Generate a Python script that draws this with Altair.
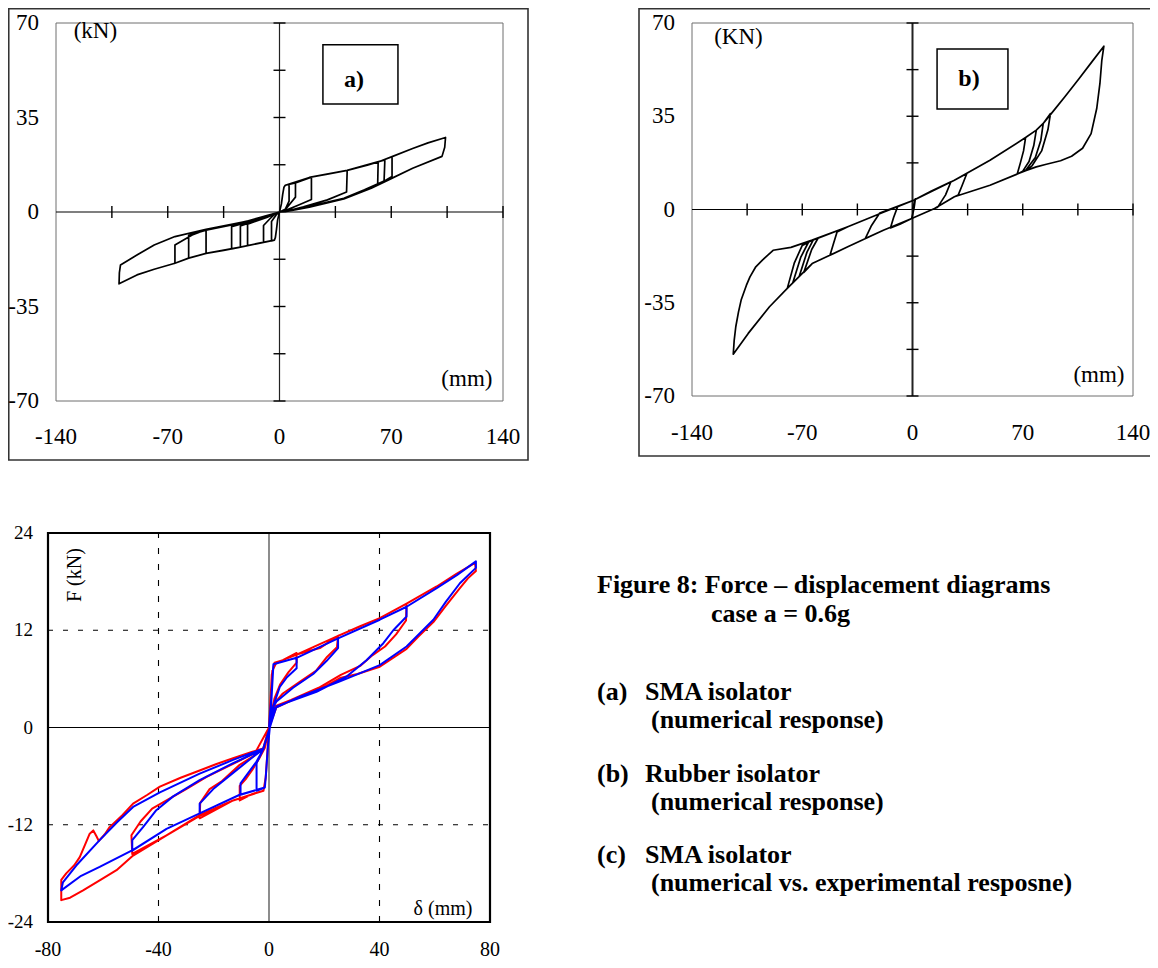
import altair as alt
import pandas as pd

FONT = "Liberation Serif"

# ---------------- data ----------------
# (a) SMA isolator, numerical response: displacement (mm), force (kN)
a_points = [
    (0, 0), (1.2, 3), (2.0, 6.5), (2.8, 9.2), (3.6, 9.9), (10, 10.8),
    (10, 5.5), (6, 2.6), (3.6, 0.8), (0, 0),
    (-1.2, -3), (-1.9, -6.5), (-2.6, -9.5), (-3.2, -10.4), (-10, -11.3),
    (-10, -5), (-6, -2.5), (-3, -0.8), (0, 0),
    (1.2, 3), (2.0, 6.5), (2.8, 9.2), (3.6, 9.9), (10, 10.8), (20, 12.9),
    (20, 4.6), (12, 2.6), (3.6, 0.5), (0, 0),
    (-1.2, -3), (-1.9, -6.5), (-2.6, -9.5), (-3.2, -10.4), (-10, -11.3), (-24.5, -13.0),
    (-24.5, -5.2), (-14, -3.0), (-5, -1.2), (0, 0),
    (1.2, 3), (2.0, 6.5), (2.8, 9.2), (3.6, 9.9), (18.7, 12.8), (30, 14.0), (42.4, 15.4),
    (42, 7.4), (30, 4.5), (15, 1.9), (3.6, 0.2), (0, 0),
    (-1.2, -3), (-1.9, -6.5), (-2.6, -9.5), (-3.2, -10.4), (-24.5, -13.0), (-35, -14.2), (-46, -15.3),
    (-46, -6.6), (-30, -4.6), (-10, -2.2), (0, 0),
    (1.2, 3), (2.0, 6.5), (2.8, 9.2), (3.6, 9.9), (18.7, 12.8), (42.4, 15.4), (55, 17.3), (61.8, 18.5),
    (70.5, 20.5), (83.4, 23.5), (93, 25.6), (104, 27.6),
    (103.5, 24), (101.8, 20.6), (83.4, 16.2), (68.3, 11.9), (57.5, 8.8), (40.3, 4.8), (18.7, 1.8), (3.6, 0.1), (0, 0),
    (-1.2, -3), (-1.9, -6.5), (-2.6, -9.5), (-3.2, -10.4), (-24.5, -13.0), (-46, -15.3), (-56.9, -17.1),
    (-65.5, -19.0), (-78.5, -21.2), (-89.3, -23.3), (-100.5, -26.6),
    (-100.3, -22.5), (-99.6, -19.6), (-89.3, -15.9), (-78.5, -12.2), (-65.5, -9.1), (-46, -6.4), (-24.5, -3.9), (-7.2, -1.7), (0, 0),
    (1.2, 3), (2.0, 6.5), (2.8, 9.2), (3.6, 9.9), (18.7, 12.8), (42.4, 15.4), (61.8, 18.5), (70.5, 20.5),
    (70.5, 13.2), (61.8, 10.1), (53.2, 8.0), (40.3, 4.9), (18.7, 1.9), (3.6, 0.1), (0, 0),
    (-1.2, -3), (-1.9, -6.5), (-2.6, -9.5), (-3.2, -10.4), (-24.5, -13.0), (-46, -15.3), (-56.9, -17.1), (-65.5, -19.0),
    (-65.5, -12.2), (-54.7, -8.5), (-46, -6.6), (-24.5, -4.0), (-7.2, -1.7), (0, 0),
    (1.2, 3), (2.0, 6.5), (2.8, 9.2), (3.6, 9.9), (18.7, 12.8), (42.4, 15.4), (61.8, 18.5),
    (61.5, 10.4), (53.2, 8.1), (40.3, 5.0), (18.7, 2.0), (3.6, 0.1), (0, 0),
    (-1.2, -3), (-1.9, -6.5), (-2.6, -9.5), (-3.2, -10.4), (-24.5, -13.0), (-46, -15.3), (-56.9, -17.1),
    (-56.9, -8.6), (-46, -6.7), (-24.5, -4.1), (0, 0),
    (1.2, 3), (2.0, 6.5), (2.8, 9.2), (3.6, 9.9), (18.7, 12.8), (42.4, 15.4), (66, 19.3),
    (65.5, 11.5), (53.2, 8.2), (40.3, 5.1), (18.7, 2.1), (0, 0),
    (-1.2, -3), (-1.9, -6.5), (-2.6, -9.5), (-3.2, -10.4), (-24.5, -13.0), (-30, -13.7),
    (-30, -5.4), (-20, -3.8), (0, 0),
    (1.2, 3), (2.0, 6.5), (2.8, 9.2), (3.6, 9.9), (6, 10.2),
    (6, 4), (3.6, 1), (0, 0),
    (-1.2, -3), (-1.9, -6.5), (-2.6, -9.5), (-3.2, -10.4), (-20, -12.4),
    (-20, -4.5), (-8, -2), (0, 0),
    (-1.2, -3), (-1.9, -6.5), (-2.6, -9.5), (-3.2, -10.4), (-5, -10.7),
    (-5, -3.5), (-2, -1), (0, 0),
]

# (b) Rubber isolator, numerical response
b_points = [
    (0, 0), (1.8, 4.0),
    (1.0, 0.5), (-0.5, -3.4), (-8, -5.5), (-14, -6.9),
    (-12, -3), (-9.5, 1.0), (0.7, 3.5), (12, 6.9), (24.4, 10.4),
    (21, 5.5), (16, 0.9), (14, 0.4), (-0.5, -3.4), (-18.5, -7.8), (-30, -10.9),
    (-26, -6), (-20.8, -1.3), (0.7, 3.5), (26.6, 11.0), (34.5, 13.5),
    (31.5, 9), (29, 5.4), (26.6, 4.8), (14, 0.4), (-0.5, -3.4), (-18.5, -7.8), (-41.1, -14.0), (-52.4, -17.2),
    (-50, -12.5), (-47.9, -8.4), (-41.1, -6.5), (-18.5, -1.0), (0.7, 3.5), (26.6, 11.0), (49.2, 18.5),
    (71.8, 27.0), (78.6, 29.8), (83.0, 32.3), (89.9, 37.3), (97, 42.5), (105.7, 49.1), (114, 55.5), (121.5, 61.3),
    (120.2, 56), (119.0, 47.3), (117.0, 38), (113.4, 28.5), (108, 23), (101, 20), (94, 18.3), (85, 17.0),
    (78.6, 16.0), (71.8, 14.6), (67.3, 13.5), (49.2, 9.1), (26.6, 4.8), (14, 0.4), (-0.5, -3.4), (-18.5, -7.8),
    (-41.1, -14.0), (-63.7, -20.3), (-79.5, -29.6), (-90.8, -36.5), (-104.3, -46.5), (-113.8, -54.3),
    (-113.2, -49), (-112.2, -44), (-110.5, -38.5), (-108.8, -34), (-105.5, -28.5), (-103.2, -25.3), (-99.5, -21.5),
    (-95.3, -19.0), (-88.5, -15.3), (-77.2, -14.2), (-63.7, -11.5), (-41.1, -6.5), (-18.5, -1.0), (0.7, 3.5),
    (26.6, 11.0), (49.2, 18.5), (71.8, 27.0), (78.6, 29.8), (83.0, 32.3), (87.6, 36.0),
    (86, 30), (82, 22), (76, 16.5), (73, 15.0), (67.3, 13.5), (49.2, 9.1), (26.6, 4.8), (14, 0.4), (-0.5, -3.4),
    (-18.5, -7.8), (-41.1, -14.0), (-63.7, -20.3), (-72, -25.2),
    (-67, -16), (-63, -11.4), (-41.1, -6.5), (-18.5, -1.0), (0.7, 3.5), (26.6, 11.0), (49.2, 18.5), (71.8, 27.0), (78.6, 29.8),
    (77, 24), (74, 18), (70, 14.4), (67.3, 13.5), (49.2, 9.1), (26.6, 4.8), (14, 0.4), (-0.5, -3.4), (-18.5, -7.8),
    (-41.1, -14.0), (-63.7, -20.3), (-76, -27.5),
    (-71, -18), (-66, -12.2), (-63.7, -11.5), (-41.1, -6.5), (-18.5, -1.0), (0.7, 3.5), (26.6, 11.0), (49.2, 18.5),
    (71.8, 27.0), (78.6, 29.8), (83.0, 32.3),
    (81.5, 26), (78, 19.5), (72, 14.8), (67.3, 13.5), (49.2, 9.1), (26.6, 4.8), (14, 0.4), (-0.5, -3.4), (-18.5, -7.8),
    (-41.1, -14.0), (-63.7, -20.3), (-79.5, -29.6),
    (-75, -20), (-70, -13.5), (-63.7, -11.5), (-41.1, -6.5), (-18.5, -1.0), (0.7, 3.5), (26.6, 11.0), (49.2, 18.5), (71.8, 27.0),
    (70.5, 22), (68.5, 17.5), (66.5, 13.3), (49.2, 9.1), (26.6, 4.8), (14, 0.4), (-0.5, -3.4), (-18.5, -7.8),
    (-41.1, -14.0), (-63.7, -20.3), (-69, -23.6),
    (-64, -15), (-60, -10.8), (-41.1, -6.5), (-18.5, -1.0), (0, 3.3),
]

# (c) SMA isolator: numerical (blue) vs experimental (red)
c_numerical = [
    (0, 0), (0.8, 3.5), (1.6, 7.8), (10, 8.6),
    (10, 7.3), (6.5, 6.2), (3.9, 5.0), (2.1, 3.2), (1.2, 2.2), (0.3, 0),
    (-0.5, -2.8), (-1.1, -5.8), (-1.5, -7.4), (-4.5, -7.8), (-4.5, -4.4), (-2.1, -2.7), (0.3, 0),
    (-0.5, -2.8), (-1.1, -5.8), (-1.5, -7.4), (-10.3, -8.3),
    (-10.3, -6.9), (-7.5, -5.6), (-4.5, -4.2), (-2.1, -2.7), (-0.8, -1.2), (0.3, 0),
    (0.9, 3.5), (1.6, 7.8), (10, 8.6), (25, 11.0),
    (25, 9.8), (20.8, 8.2), (16, 6.6), (8.7, 4.9), (2.7, 3.2), (1.5, 2.5), (0.3, 0),
    (-0.5, -2.8), (-1.1, -5.8), (-1.5, -7.4), (-10.6, -8.3), (-25.1, -10.6),
    (-25.1, -9.4), (-20.2, -7.6), (-13, -5.6), (-5.7, -3.6), (-2.1, -2.7), (0.3, 0),
    (0.9, 3.5), (1.6, 7.8), (10, 8.6), (25, 11.0), (40.1, 13.3), (49.8, 14.9),
    (49.8, 13.7), (45, 12.0), (41.4, 10.4), (35.3, 8.3), (28.1, 6.3), (17.2, 4.4), (2.7, 2.6), (0.3, 0),
    (-0.5, -2.8), (-1.1, -5.8), (-1.5, -7.4), (-10.6, -8.3), (-25.1, -10.6), (-37.1, -12.5), (-49.5, -15.2),
    (-49.5, -13.9), (-45.6, -12.3), (-40.8, -10.2), (-34.7, -8.5), (-25.1, -6.5), (-13, -4.4), (-2.1, -2.7), (0.3, 0),
    (0.9, 3.5), (1.6, 7.8), (10, 8.6), (25, 11.0), (40.1, 13.3), (49.8, 14.9), (60.7, 17.2), (68, 18.8), (74.9, 20.5),
    (74.9, 19.7), (69.1, 17.8), (64, 15.5), (59.5, 13.3), (49.8, 10.0), (40.1, 7.7), (25.7, 5.7), (11.2, 3.8), (2.1, 2.4), (0.3, 0),
    (-0.5, -2.8), (-1.1, -5.8), (-1.5, -7.4), (-10.6, -8.3), (-25.1, -10.6), (-37.1, -12.5), (-49.2, -15.1),
    (-61.3, -17.2), (-68, -18.3), (-75.2, -20.1),
    (-74.6, -19.1), (-69.7, -17.0), (-61.3, -13.9), (-55, -11.7), (-49.2, -9.8), (-39.5, -8.0), (-25.1, -5.7),
    (-13, -4.0), (-2.1, -2.6), (0.3, 0),
    (0.9, 3.5), (1.6, 7.8),
]

c_experimental = [
    (0, 0), (0.6, 3.8), (1.0, 6.5), (2.0, 8.0), (5, 8.3), (10, 9.2),
    (10, 8.0), (7, 6.8), (4, 5.3), (2.0, 3.6), (1.0, 2.0), (0, 0),
    (-0.6, -3.2), (-1.2, -6.2), (-2.0, -7.8), (-6, -8.2), (-10.6, -9.0),
    (-10.6, -7.2), (-8.5, -6.4), (-6, -5.2), (-3.5, -3.8), (-1.5, -2.5), (0, 0),
    (0.6, 3.8), (1.2, 7.0), (2.7, 8.0), (10, 9.0), (18.4, 9.8), (25, 11.3),
    (24.6, 9.9), (21, 8.7), (17, 7.0), (11, 5.6), (5, 4.2), (2, 3.0), (0, 0),
    (-0.6, -3.2), (-1.2, -6.2), (-2.0, -7.8), (-13, -9.0), (-25.1, -11.2),
    (-24.9, -9.3), (-21.5, -7.6), (-17, -6.6), (-10.6, -4.6), (-5, -3.4), (-1.5, -2.4), (0, 0),
    (0.6, 3.8), (1.2, 7.0), (2.7, 8.0), (10, 9.0), (25, 11.3), (33, 12.5), (40.1, 13.5), (49.8, 15.3),
    (49.6, 13.2), (46, 11.5), (42, 10.0), (37, 8.8), (33, 7.6), (26, 6.5), (18, 4.9), (8, 3.4), (2, 2.6), (0, 0),
    (-0.6, -3.2), (-1.2, -6.2), (-2.0, -7.8), (-13, -9.0), (-25.1, -10.9), (-37.1, -13.3), (-49.5, -15.6),
    (-49.8, -13.3), (-46.5, -11.6), (-42.3, -10.0), (-37.1, -9.0), (-30, -7.6), (-22.6, -6.1), (-13, -4.5), (-5, -3.1), (0, 0),
    (0.6, 3.8), (1.2, 7.0), (2.7, 8.0), (10, 9.0), (25, 11.3), (40.1, 13.5), (49.8, 15.3), (60.7, 17.4), (68, 19.0), (74.6, 20.3),
    (74.9, 19.3), (72, 18.4), (69.1, 17.2), (64, 15.0), (59.5, 13.0), (54, 11.2), (49.8, 9.7), (40.1, 7.5), (32, 6.6),
    (25.7, 6.1), (18, 4.6), (11.2, 3.8), (2.7, 2.5), (0, 0),
    (-0.6, -3.2), (-1.2, -6.2), (-2.0, -7.8), (-13, -9.0), (-25.1, -10.8), (-37.1, -13.3), (-49.2, -15.8),
    (-55.2, -17.6), (-61, -18.8), (-67.3, -20.1), (-72, -21.0), (-75.2, -21.3),
    (-75.2, -18.8), (-73.4, -18.0), (-70.5, -17.0), (-68.5, -16.0), (-66.5, -14.4), (-64.9, -13.1), (-63.6, -12.7),
    (-62.5, -13.4), (-61.6, -14.0), (-59.5, -13.2), (-57.7, -12.3), (-53, -10.8), (-49.2, -9.4), (-44, -8.3),
    (-39.5, -7.3), (-32, -6.2), (-25.1, -5.3), (-19, -4.5), (-13, -3.8), (-6, -3.0), (-2.1, -2.6), (0, 0),
    (0.6, 3.8), (1.2, 7.0),
]

ab_x_tick_marks = [-105, -70, -35, 35, 70, 105, 140]
ab_y_tick_marks = [-70, -52.5, -35, -17.5, 17.5, 35, 52.5, 70]
ab_x_tick_labels = [-140, -70, 0, 70, 140]
ab_y_tick_labels = [-70, -35, 0, 35, 70]
c_x_tick_labels = [-80, -40, 0, 40, 80]
c_y_tick_labels = [-24, -12, 0, 12, 24]
c_grid_x = [-40, 40]
c_grid_y = [-12, 12]

caption_title = ["Figure 8: Force \u2013 displacement diagrams", "case a = 0.6g"]
caption_tags = ["(a)", "(b)", "(c)"]
caption_names = ["SMA isolator", "Rubber isolator", "SMA isolator"]
caption_notes = ["(numerical response)", "(numerical response)",
                 "(numerical vs. experimental resposne)"]

# ---------------- layout (pixel ranges of each panel) ----------------
PANEL = {
    "a": dict(xd=[-140, 140], xr=[48, 495], yd=[-70, 70], yr=[393, 15]),
    "b": dict(xd=[-140, 140], xr=[684, 1125], yd=[-70, 70], yr=[388, 15]),
    "c": dict(xd=[-80, 80], xr=[40, 482], yd=[-24, 24], yr=[914, 525]),
}


def xs(p):
    return alt.Scale(domain=PANEL[p]["xd"], range=PANEL[p]["xr"], nice=False, zero=False)


def ys(p):
    return alt.Scale(domain=PANEL[p]["yd"], range=PANEL[p]["yr"], nice=False, zero=False)


def X(p, field):
    return alt.X(field, type="quantitative", scale=xs(p), axis=None)


def Y(p, field):
    return alt.Y(field, type="quantitative", scale=ys(p), axis=None)


def XD(p, v):
    return alt.XDatum(v, type="quantitative", scale=xs(p), axis=None)


def YD(p, v):
    return alt.YDatum(v, type="quantitative", scale=ys(p), axis=None)


ONE = pd.DataFrame({"k": [0]})


def curve_df(points):
    return pd.DataFrame({"i": list(range(len(points))),
                         "x": [q[0] for q in points],
                         "y": [q[1] for q in points]})


def curve(p, points, color, width):
    return alt.Chart(curve_df(points)).mark_line(
        color=color, strokeWidth=width, strokeJoin="round").encode(
        x=X(p, "x"), y=Y(p, "y"), order=alt.Order("i:Q"))


def vals_df(vals):
    return pd.DataFrame({"v": vals, "t": [str(v) for v in vals]})


def frame(p, x0, x1, y0, y1, color, width):
    return alt.Chart(ONE).mark_rect(fillOpacity=0, stroke=color, strokeWidth=width).encode(
        x=XD(p, x0), x2=alt.X2Datum(x1), y=YD(p, y0), y2=alt.Y2Datum(y1))


def hline(p, yv, x0, x1, color, width):
    return alt.Chart(ONE).mark_rule(color=color, strokeWidth=width).encode(
        x=XD(p, x0), x2=alt.X2Datum(x1), y=YD(p, yv))


def vline(p, xv, y0, y1, color, width):
    return alt.Chart(ONE).mark_rule(color=color, strokeWidth=width).encode(
        x=XD(p, xv), y=YD(p, y0), y2=alt.Y2Datum(y1))


def note(p, xv, yv, text, size, bold=False, align="center"):
    return alt.Chart(ONE).mark_text(
        text=text, font=FONT, fontSize=size, fontWeight="bold" if bold else "normal",
        align=align, baseline="middle", color="black").encode(x=XD(p, xv), y=YD(p, yv))


layers = []


def isolator_panel(p, points, outer, label, unit_y, unit_pos, unit_mm_pos,
                   box, box_text_pos, xlab_y, ylab_x, vaxis_w):
    # outer frame around whole panel (decoration)
    layers.append(alt.Chart(ONE).mark_rect(fillOpacity=0, stroke="#333333", strokeWidth=1.6).encode(
        x=alt.value(outer[0]), x2=alt.value(outer[1]), y=alt.value(outer[2]), y2=alt.value(outer[3])))
    layers.append(frame(p, -140, 140, -70, 70, "#6e6e6e", 1))
    layers.append(hline(p, 0, -140, 140, "black", 1.1))
    layers.append(vline(p, 0, -70, 70, "#222222", vaxis_w))
    layers.append(alt.Chart(vals_df(ab_x_tick_marks)).mark_tick(
        orient="vertical", size=12, thickness=1.4, color="black", opacity=1).encode(
        x=X(p, "v"), y=YD(p, 0)))
    layers.append(alt.Chart(vals_df(ab_y_tick_marks)).mark_tick(
        orient="horizontal", size=12, thickness=1.4, color="black", opacity=1).encode(
        x=XD(p, 0), y=Y(p, "v")))
    layers.append(curve(p, points, "black", 1.7))
    layers.append(alt.Chart(vals_df(ab_x_tick_labels)).mark_text(
        font=FONT, fontSize=23, align="center", baseline="middle", color="black").encode(
        x=X(p, "v"), y=alt.value(xlab_y), text="t:N"))
    layers.append(alt.Chart(vals_df(ab_y_tick_labels)).mark_text(
        font=FONT, fontSize=23, align="right", baseline="middle", color="black").encode(
        x=alt.value(ylab_x), y=Y(p, "v"), text="t:N"))
    layers.append(note(p, unit_pos[0], unit_pos[1], unit_y, 23))
    layers.append(note(p, unit_mm_pos[0], unit_mm_pos[1], "(mm)", 23))
    layers.append(frame(p, box[0], box[1], box[2], box[3], "black", 1.5))
    layers.append(note(p, box_text_pos[0], box_text_pos[1], label, 24, bold=True))


isolator_panel("a", a_points, (0.75, 520, 0.75, 452), "a)", "(kN)", (-115.3, 67.0), (117.4, -61.9),
               (27.2, 74.2, 40.0, 61.9), (46.7, 48.9), 429, 31, 1.2)
isolator_panel("b", b_points, (631, 1170, 0.75, 448), "b)", "(KN)", (-110.5, 64.8), (118.4, -62.1),
               (15.6, 60.6, 37.7, 60.2), (35.9, 49.0), 425, 667, 2.0)

# panel (c)
layers.append(alt.Chart(vals_df(c_grid_x)).mark_rule(color="black", strokeWidth=1.1, strokeDash=[6, 10]).encode(
    x=X("c", "v"), y=YD("c", -24), y2=alt.Y2Datum(24)))
layers.append(alt.Chart(vals_df(c_grid_y)).mark_rule(color="black", strokeWidth=1.1, strokeDash=[5, 10]).encode(
    y=Y("c", "v"), x=XD("c", -80), x2=alt.X2Datum(80)))
layers.append(hline("c", 0, -80, 80, "black", 1.2))
layers.append(vline("c", 0, -24, 24, "#707070", 1.6))
layers.append(curve("c", c_experimental, "#ff0000", 2))
layers.append(curve("c", c_numerical, "#0000ff", 2))
layers.append(frame("c", -80, 80, -24, 24, "black", 2.2))
layers.append(alt.Chart(vals_df(c_x_tick_labels)).mark_text(
    font=FONT, fontSize=20, align="center", baseline="middle", color="black").encode(
    x=X("c", "v"), y=alt.value(942), text="t:N"))
layers.append(alt.Chart(vals_df(c_y_tick_labels)).mark_text(
    font=FONT, fontSize=19, align="right", baseline="middle", color="black").encode(
    x=alt.value(25), y=Y("c", "v"), text="t:N"))
layers.append(alt.Chart(ONE).mark_text(
    text="F (kN)", font=FONT, fontSize=20, angle=270, align="center", baseline="middle", color="black").encode(
    x=XD("c", -70.2), y=YD("c", 18.8)))
layers.append(note("c", 63, -22.4, "\u03b4 (mm)", 20))

# caption block (annotation text)
CAP = dict(font=FONT, fontSize=26, fontWeight="bold", baseline="alphabetic", align="left", color="black")
layers.append(alt.Chart(ONE).mark_text(text=caption_title[0], **CAP).encode(x=alt.value(589), y=alt.value(585)))
layers.append(alt.Chart(ONE).mark_text(text=caption_title[1], **CAP).encode(x=alt.value(703), y=alt.value(614)))
for k, (yy1, yy2) in enumerate([(692, 720), (774, 802), (855, 883)]):
    layers.append(alt.Chart(ONE).mark_text(text=caption_tags[k], **CAP).encode(x=alt.value(589), y=alt.value(yy1)))
    layers.append(alt.Chart(ONE).mark_text(text=caption_names[k], **CAP).encode(x=alt.value(637), y=alt.value(yy1)))
    layers.append(alt.Chart(ONE).mark_text(text=caption_notes[k], **CAP).encode(x=alt.value(643), y=alt.value(yy2)))

chart = alt.layer(*layers).resolve_scale(x="independent", y="independent").properties(
    width=1142, height=952, padding=0, autosize=alt.AutoSizeParams(type="none"), background="white"
).configure_view(strokeWidth=0)

chart.save("out.html", embed_options={"renderer": "svg", "actions": False})
